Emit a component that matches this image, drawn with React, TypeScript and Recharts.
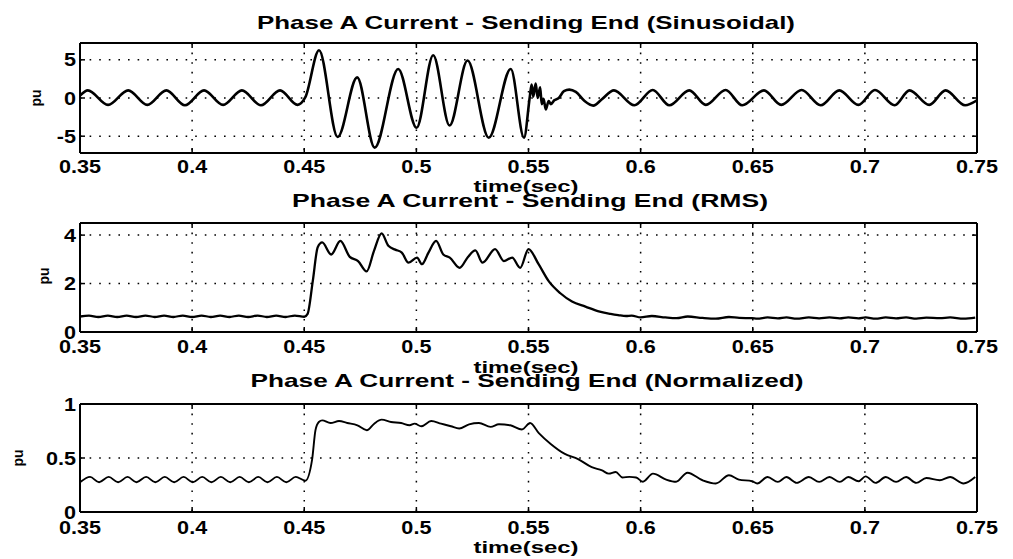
import React from 'react';
import { LineChart, Line, XAxis, YAxis, CartesianGrid } from 'recharts';

const FONT = '"Liberation Sans", Arial, Helvetica, sans-serif';

// ---------- shared axis ----------
const timeTicks = [0.35, 0.4, 0.45, 0.5, 0.55, 0.6, 0.65, 0.7, 0.75];

// ---------- plot 1 : sinusoidal current ----------
const sinTime = [
  0.3500, 0.3535, 0.3625, 0.3715, 0.3800, 0.3885, 0.3968, 0.4053, 0.4138, 0.4222,
  0.4307, 0.4392, 0.4470, 0.4505, 0.4566, 0.4649, 0.4736, 0.4814, 0.4919, 0.5001,
  0.5075, 0.5148, 0.5228, 0.5323, 0.5421, 0.5480, 0.5506, 0.5514, 0.5521, 0.5532,
  0.5541, 0.5552, 0.5559, 0.5567, 0.5577, 0.5590, 0.5600, 0.5615, 0.5635, 0.5658,
  0.5682, 0.5711, 0.5750, 0.5789, 0.5826, 0.5881, 0.5972, 0.6054, 0.6128, 0.6217,
  0.6291, 0.6379, 0.6453, 0.6550, 0.6627, 0.6718, 0.6803, 0.6886, 0.6971, 0.7045,
  0.7133, 0.7199, 0.7287, 0.7360, 0.7447, 0.7500,
];
const sinValue = [
  0.30, 1.00, -0.90, 1.00, -0.90, 1.00, -0.95, 1.00, -0.90, 1.00,
  -0.95, 1.00, -0.90, 0.10, 6.25, -5.10, 2.70, -6.50, 3.80, -3.90,
  5.60, -3.60, 4.90, -5.20, 3.80, -5.20, 0.20, 1.75, 0.20, 1.90,
  0.00, 1.40, -0.80, -0.10, -1.50, -0.40, -0.80, -0.30, 0.00, 0.90,
  1.10, 0.80, -0.40, -1.00, -0.20, 1.00, -0.95, 1.05, -0.95, 1.00,
  -0.90, 1.05, -0.95, 1.00, -0.90, 1.05, -0.95, 1.00, -0.90, 1.05,
  -0.95, 1.00, -0.90, 1.00, -0.95, -0.30,
];
const sinTicks = [-5, 0, 5];

// ---------- plot 2 : RMS current ----------
const rmsTime = [
  0.3500, 0.3540, 0.3582, 0.3624, 0.3666, 0.3708, 0.3750, 0.3792, 0.3833, 0.3875,
  0.3917, 0.3958, 0.4000, 0.4042, 0.4083, 0.4125, 0.4167, 0.4208, 0.4250, 0.4292,
  0.4333, 0.4375, 0.4417, 0.4458, 0.4500, 0.4515, 0.4538, 0.4560, 0.4580, 0.4620,
  0.4661, 0.4703, 0.4740, 0.4778, 0.4811, 0.4845, 0.4875, 0.4906, 0.4935, 0.4965,
  0.5003, 0.5025, 0.5054, 0.5088, 0.5120, 0.5149, 0.5193, 0.5230, 0.5263, 0.5295,
  0.5351, 0.5390, 0.5427, 0.5463, 0.5500, 0.5545, 0.5590, 0.5642, 0.5694, 0.5754,
  0.5813, 0.5866, 0.5900, 0.5935, 0.5960, 0.6000, 0.6050, 0.6110, 0.6160, 0.6210,
  0.6276, 0.6335, 0.6394, 0.6440, 0.6497, 0.6520, 0.6566, 0.6612, 0.6650, 0.6696,
  0.6750, 0.6796, 0.6842, 0.6888, 0.6926, 0.6972, 0.7003, 0.7048, 0.7093, 0.7139,
  0.7184, 0.7229, 0.7274, 0.7334, 0.7380, 0.7440, 0.7492,
];
const rmsValue = [
  0.64, 0.68, 0.62, 0.68, 0.62, 0.68, 0.62, 0.68, 0.62, 0.68,
  0.62, 0.68, 0.62, 0.68, 0.62, 0.68, 0.62, 0.68, 0.62, 0.68,
  0.62, 0.68, 0.62, 0.68, 0.63, 0.75, 2.10, 3.50, 3.70, 3.20,
  3.76, 3.10, 2.93, 2.50, 3.35, 4.07, 3.56, 3.40, 3.28, 2.86,
  3.07, 2.80, 3.28, 3.76, 3.20, 3.07, 2.65, 3.10, 3.37, 2.86,
  3.42, 2.93, 3.07, 2.65, 3.42, 2.80, 2.10, 1.60, 1.26, 1.05,
  0.85, 0.75, 0.70, 0.66, 0.68, 0.60, 0.66, 0.60, 0.57, 0.64,
  0.58, 0.55, 0.62, 0.58, 0.57, 0.55, 0.60, 0.56, 0.60, 0.55,
  0.60, 0.56, 0.60, 0.56, 0.60, 0.56, 0.60, 0.55, 0.60, 0.56,
  0.60, 0.55, 0.59, 0.57, 0.60, 0.55, 0.59,
];
const rmsTicks = [0, 2, 4];

// ---------- plot 3 : normalized current ----------
const normTime = [
  0.3500, 0.3545, 0.3585, 0.3628, 0.3670, 0.3712, 0.3752, 0.3795, 0.3836, 0.3878,
  0.3920, 0.3962, 0.4003, 0.4045, 0.4086, 0.4128, 0.4170, 0.4212, 0.4253, 0.4295,
  0.4336, 0.4378, 0.4420, 0.4462, 0.4505, 0.4535, 0.4550, 0.4565, 0.4580, 0.4617,
  0.4655, 0.4692, 0.4737, 0.4779, 0.4812, 0.4845, 0.4887, 0.4932, 0.4970, 0.4992,
  0.5022, 0.5066, 0.5110, 0.5154, 0.5191, 0.5235, 0.5279, 0.5331, 0.5368, 0.5419,
  0.5471, 0.5507, 0.5546, 0.5599, 0.5660, 0.5721, 0.5782, 0.5828, 0.5858, 0.5889,
  0.5919, 0.5950, 0.5980, 0.6010, 0.6055, 0.6114, 0.6158, 0.6209, 0.6276, 0.6335,
  0.6394, 0.6438, 0.6497, 0.6520, 0.6566, 0.6612, 0.6650, 0.6696, 0.6750, 0.6796,
  0.6842, 0.6888, 0.6926, 0.6972, 0.7003, 0.7048, 0.7093, 0.7139, 0.7184, 0.7229,
  0.7274, 0.7334, 0.7380, 0.7440, 0.7492,
];
const normValue = [
  0.275, 0.325, 0.275, 0.325, 0.275, 0.325, 0.275, 0.325, 0.275, 0.325,
  0.275, 0.325, 0.275, 0.325, 0.275, 0.325, 0.275, 0.325, 0.275, 0.325,
  0.275, 0.325, 0.275, 0.325, 0.290, 0.485, 0.757, 0.833, 0.848, 0.824,
  0.842, 0.824, 0.803, 0.757, 0.818, 0.855, 0.833, 0.824, 0.803, 0.818,
  0.794, 0.842, 0.818, 0.794, 0.773, 0.812, 0.824, 0.788, 0.812, 0.803,
  0.764, 0.824, 0.730, 0.630, 0.540, 0.490, 0.415, 0.385, 0.355, 0.370,
  0.320, 0.325, 0.320, 0.280, 0.355, 0.300, 0.280, 0.364, 0.294, 0.264,
  0.340, 0.300, 0.285, 0.264, 0.324, 0.279, 0.324, 0.270, 0.324, 0.279,
  0.324, 0.279, 0.324, 0.285, 0.330, 0.270, 0.324, 0.279, 0.324, 0.270,
  0.315, 0.294, 0.324, 0.264, 0.324,
];
const normTicks = [0, 0.5, 1];

const toRows = (ts: number[], vs: number[]) => ts.map((t, i) => ({ t, v: vs[i] }));

// ---------- tick renderers ----------
const makeXTick = (labelOffset: number) => (props: any) => {
  const { x, y, payload } = props;
  return (
    <g>
      <line x1={x} y1={y} x2={x} y2={y - 5} stroke="#000" strokeWidth={1.5} />
      <text
        transform={`translate(${x},${y + labelOffset}) scale(1.2,1)`}
        textAnchor="middle"
        fontFamily={FONT}
        fontWeight="bold"
        fontSize={18}
        fill="#000"
      >
        {String(payload.value)}
      </text>
    </g>
  );
};

const YTick = (props: any) => {
  const { x, y, payload } = props;
  return (
    <g>
      <line x1={x} y1={y} x2={x + 5} y2={y} stroke="#000" strokeWidth={1.5} />
      <text
        transform={`translate(${x - 4},${y + 6.5}) scale(1.2,1)`}
        textAnchor="end"
        fontFamily={FONT}
        fontWeight="bold"
        fontSize={18}
        fill="#000"
      >
        {String(payload.value)}
      </text>
    </g>
  );
};

const TopTick = (props: any) => {
  const { x, y } = props;
  return <line x1={x} y1={y} x2={x} y2={y + 5} stroke="#000" strokeWidth={1.5} />;
};

const RightTick = (props: any) => {
  const { x, y } = props;
  return <line x1={x} y1={y} x2={x - 5} y2={y} stroke="#000" strokeWidth={1.5} />;
};

type PanelProps = {
  top: number;
  plotH: number;
  rows: { t: number; v: number }[];
  yDomain: [number, number];
  yTicks: number[];
  labelOffset: number;
  lineWidth: number;
};

const axisLine = { stroke: '#000', strokeWidth: 2 };
const PAD = 14;

const Panel = ({ top, plotH, rows, yDomain, yTicks, labelOffset, lineWidth }: PanelProps) => (
  <div style={{ position: 'absolute', left: 0, top: top - PAD }}>
    <LineChart
      width={1013}
      height={PAD + 1 + plotH + 30}
      data={rows}
      margin={{ top: PAD, right: 35, left: 0, bottom: 0 }}
    >
      <CartesianGrid stroke="#000" strokeWidth={1.5} strokeDasharray="1.6 8" />
      <XAxis
        dataKey="t"
        type="number"
        domain={[0.35, 0.75]}
        ticks={timeTicks}
        allowDataOverflow
        height={30}
        tickSize={0}
        tickMargin={0}
        tickLine={false}
        axisLine={axisLine}
        tick={makeXTick(labelOffset)}
        interval={0}
      />
      <XAxis
        xAxisId="top"
        orientation="top"
        dataKey="t"
        type="number"
        domain={[0.35, 0.75]}
        ticks={timeTicks}
        allowDataOverflow
        height={1}
        tickSize={0}
        tickMargin={0}
        tickLine={false}
        axisLine={axisLine}
        tick={TopTick}
        interval={0}
      />
      <YAxis
        type="number"
        domain={yDomain}
        ticks={yTicks}
        allowDataOverflow
        width={80}
        tickSize={0}
        tickMargin={0}
        tickLine={false}
        axisLine={axisLine}
        tick={YTick}
        interval={0}
      />
      <YAxis
        yAxisId="right"
        orientation="right"
        type="number"
        domain={yDomain}
        ticks={yTicks}
        allowDataOverflow
        width={1}
        tickSize={0}
        tickMargin={0}
        tickLine={false}
        axisLine={axisLine}
        tick={RightTick}
        interval={0}
      />
      <Line
        type="monotone"
        dataKey="v"
        stroke="#000"
        strokeWidth={lineWidth}
        dot={false}
        isAnimationActive={false}
      />
    </LineChart>
  </div>
);

const textStyle = { fontFamily: FONT, fontWeight: 'bold' as const, fill: '#000' };

export default function App() {
  return (
    <div
      style={{
        position: 'absolute',
        left: 0,
        top: 0,
        width: 1013,
        height: 559,
        background: '#fff',
        overflow: 'hidden',
      }}
    >
      <Panel top={42} plotH={110} rows={toRows(sinTime, sinValue)} yDomain={[-7.2, 7.2]} yTicks={sinTicks} labelOffset={20} lineWidth={2.6} />
      <Panel top={222} plotH={109} rows={toRows(rmsTime, rmsValue)} yDomain={[0, 4.5]} yTicks={rmsTicks} labelOffset={21} lineWidth={2.3} />
      <Panel top={403} plotH={108} rows={toRows(normTime, normValue)} yDomain={[0, 1]} yTicks={normTicks} labelOffset={22} lineWidth={1.9} />
      <svg width={1013} height={559} style={{ position: 'absolute', left: 0, top: 0, pointerEvents: 'none' }}>
        <text x={526} y={29} textAnchor="middle" fontSize={18.5} textLength={538} lengthAdjust="spacingAndGlyphs" {...textStyle}>
          Phase A Current - Sending End (Sinusoidal)
        </text>
        <text x={530} y={207} textAnchor="middle" fontSize={18.5} textLength={476} lengthAdjust="spacingAndGlyphs" {...textStyle}>
          Phase A Current - Sending End (RMS)
        </text>
        <text x={527} y={387} textAnchor="middle" fontSize={18.5} textLength={553} lengthAdjust="spacingAndGlyphs" {...textStyle}>
          Phase A Current - Sending End (Normalized)
        </text>
        <text x={526} y={192} textAnchor="middle" fontSize={17} textLength={105} lengthAdjust="spacingAndGlyphs" {...textStyle}>
          time(sec)
        </text>
        <text x={526} y={373} textAnchor="middle" fontSize={17} textLength={105} lengthAdjust="spacingAndGlyphs" {...textStyle}>
          time(sec)
        </text>
        <text x={526} y={553} textAnchor="middle" fontSize={17} textLength={105} lengthAdjust="spacingAndGlyphs" {...textStyle}>
          time(sec)
        </text>
        <text transform="translate(41,98) rotate(-90)" textAnchor="middle" fontSize={14} {...textStyle}>
          pu
        </text>
        <text transform="translate(49,276) rotate(-90)" textAnchor="middle" fontSize={14} {...textStyle}>
          pu
        </text>
        <text transform="translate(23,458) rotate(-90)" textAnchor="middle" fontSize={14} {...textStyle}>
          pu
        </text>
      </svg>
    </div>
  );
}
